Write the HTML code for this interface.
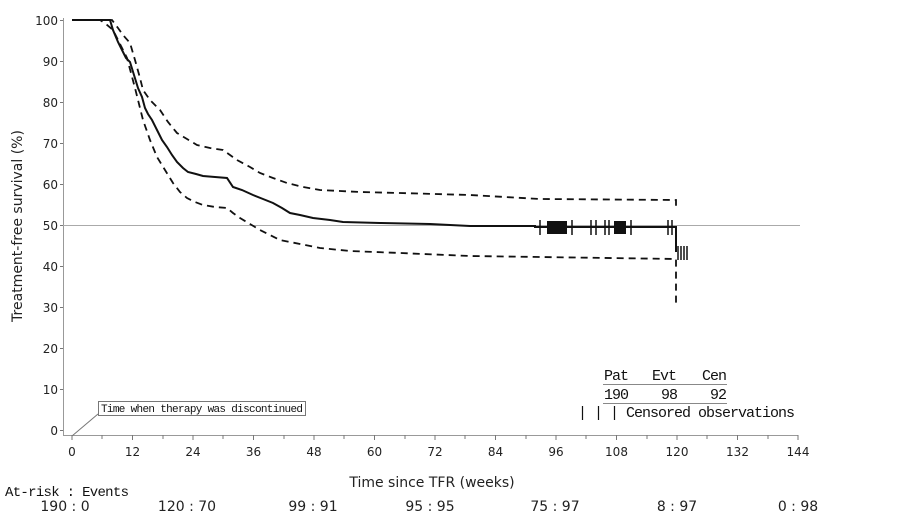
<!DOCTYPE html>
<html><head><meta charset="utf-8"><style>
html,body{margin:0;padding:0;background:#fff;width:924px;height:520px;overflow:hidden}
svg{display:block}
.s{font-family:"DejaVu Sans","Liberation Sans",sans-serif;fill:#222}
.m{font-family:"Liberation Mono","DejaVu Sans Mono",monospace;fill:#111}
</style></head><body>
<svg width="924" height="520" viewBox="0 0 924 520">
<g stroke="#999" stroke-width="1" fill="none">
<line x1="63.5" y1="18" x2="63.5" y2="435"/>
<line x1="63" y1="435.5" x2="798" y2="435.5"/>
<line x1="63" y1="225.5" x2="800" y2="225.5" stroke="#aaa"/>
</g>
<g stroke="#777" stroke-width="1">
<line x1="60" y1="20.5" x2="63" y2="20.5"/><line x1="60" y1="61.5" x2="63" y2="61.5"/><line x1="60" y1="102.5" x2="63" y2="102.5"/><line x1="60" y1="143.5" x2="63" y2="143.5"/><line x1="60" y1="184.5" x2="63" y2="184.5"/><line x1="60" y1="225.5" x2="63" y2="225.5"/><line x1="60" y1="266.5" x2="63" y2="266.5"/><line x1="60" y1="307.5" x2="63" y2="307.5"/><line x1="60" y1="348.5" x2="63" y2="348.5"/><line x1="60" y1="389.5" x2="63" y2="389.5"/><line x1="60" y1="430.5" x2="63" y2="430.5"/>
</g>
<g class="s" font-size="12" text-anchor="end">
<text x="58" y="25">100</text><text x="58" y="66">90</text><text x="58" y="107">80</text><text x="58" y="148">70</text><text x="58" y="189">60</text><text x="58" y="230">50</text><text x="58" y="271">40</text><text x="58" y="312">30</text><text x="58" y="353">20</text><text x="58" y="394">10</text><text x="58" y="435">0</text>
</g>
<g class="s" font-size="12" text-anchor="middle">
<text x="72" y="456">0</text><text x="132.5" y="456">12</text><text x="193" y="456">24</text><text x="253.5" y="456">36</text><text x="314" y="456">48</text><text x="374.5" y="456">60</text><text x="435" y="456">72</text><text x="495.5" y="456">84</text><text x="556" y="456">96</text><text x="616.5" y="456">108</text><text x="677" y="456">120</text><text x="737.5" y="456">132</text><text x="798" y="456">144</text>
</g>
<g stroke="#777" stroke-width="1">
<line x1="72" y1="435" x2="72" y2="440"/><line x1="102" y1="435" x2="102" y2="439"/><line x1="132.5" y1="435" x2="132.5" y2="440"/><line x1="163" y1="435" x2="163" y2="439"/><line x1="193" y1="435" x2="193" y2="440"/><line x1="223" y1="435" x2="223" y2="439"/><line x1="253.5" y1="435" x2="253.5" y2="440"/><line x1="284" y1="435" x2="284" y2="439"/><line x1="314" y1="435" x2="314" y2="440"/><line x1="344" y1="435" x2="344" y2="439"/><line x1="374.5" y1="435" x2="374.5" y2="440"/><line x1="405" y1="435" x2="405" y2="439"/><line x1="435" y1="435" x2="435" y2="440"/><line x1="465" y1="435" x2="465" y2="439"/><line x1="495.5" y1="435" x2="495.5" y2="440"/><line x1="526" y1="435" x2="526" y2="439"/><line x1="556" y1="435" x2="556" y2="440"/><line x1="586" y1="435" x2="586" y2="439"/><line x1="616.5" y1="435" x2="616.5" y2="440"/><line x1="647" y1="435" x2="647" y2="439"/><line x1="677" y1="435" x2="677" y2="440"/><line x1="707" y1="435" x2="707" y2="439"/><line x1="737.5" y1="435" x2="737.5" y2="440"/><line x1="768" y1="435" x2="768" y2="439"/><line x1="798" y1="435" x2="798" y2="440"/>
</g>
<text class="s" font-size="14" transform="translate(22,226) rotate(-90)" text-anchor="middle">Treatment-free survival (%)</text>
<text class="s" font-size="14" x="432" y="487" text-anchor="middle">Time since TFR (weeks)</text>
<text class="m" font-size="14" x="5" y="496" textLength="124">At-risk : Events</text>
<g class="s" font-size="14" text-anchor="middle">
<text x="65" y="511">190 : 0</text><text x="187" y="511">120 : 70</text><text x="313" y="511">99 : 91</text><text x="430" y="511">95 : 95</text><text x="555" y="511">75 : 97</text><text x="677" y="511">8 : 97</text><text x="798" y="511">0 : 98</text>
</g>
<line x1="72" y1="436" x2="98" y2="414" stroke="#777"/>
<rect x="98.5" y="401.5" width="207" height="14" fill="#fff" stroke="#777"/>
<text class="m" font-size="11" x="101" y="412" textLength="202">Time when therapy was discontinued</text>
<g fill="none" stroke="#111" stroke-width="2">
<path d="M72,20 H110 L113,30 L118,42 L122,50 L126,58 L130,62 L134,75 L138,88 L142,97 L145,108 L148,114 L152,120 L157,130 L162,140 L167,147 L172,155 L177,162 L183,168 L188,172 L196,174 L203,176 L215,177 L227,178 L233,187 L242,190 L253,195 L263,199 L273,203 L282,208 L290,213 L300,215 L313,218 L330,220 L343,222 L380,223 L430,224 L470,226 L535,226 V227 H676 V252"/>
</g>
<g fill="none" stroke="#111" stroke-width="1.8" stroke-dasharray="7,5">
<path d="M72,20 H112 L118,28 L123,35 L130,43 L135,60 L140,78 L143,90 L150,100 L160,110 L168,122 L177,133 L187,139 L197,145 L210,148 L223,150 L230,155 L237,160 L250,167 L260,173 L273,178 L287,183 L303,187 L320,190 L340,191 L360,192 L400,193 L470,195 L540,199 L676,200 V208"/>
<path d="M72,20 H100 L106,24 L113,30 L120,44 L127,58 L135,88 L143,120 L150,140 L157,157 L165,170 L173,183 L180,192 L187,198 L195,202 L203,205 L215,207 L227,208 L233,213 L240,218 L250,224 L260,230 L270,235 L280,240 L300,244 L320,248 L350,251 L400,253 L470,256 L540,257 L676,259 V305"/>
</g>
<g stroke="#111" stroke-width="1.5">
<line x1="540" y1="220" x2="540" y2="235"/><line x1="572" y1="220" x2="572" y2="235"/><line x1="591" y1="220" x2="591" y2="235"/><line x1="596" y1="220" x2="596" y2="235"/><line x1="605" y1="220" x2="605" y2="235"/><line x1="609" y1="220" x2="609" y2="235"/><line x1="631" y1="220" x2="631" y2="235"/><line x1="668" y1="220" x2="668" y2="235"/><line x1="672" y1="220" x2="672" y2="235"/>
<line x1="678" y1="246" x2="678" y2="260"/><line x1="681" y1="246" x2="681" y2="260"/><line x1="684" y1="246" x2="684" y2="260"/><line x1="687" y1="246" x2="687" y2="260"/>
</g>
<rect x="547" y="221" width="20" height="13" fill="#111"/>
<rect x="614" y="221" width="12" height="13" fill="#111"/>
<g class="m" font-size="15">
<text x="604" y="380" textLength="25">Pat</text><text x="652" y="380" textLength="25">Evt</text><text x="702" y="380" textLength="25">Cen</text>
<text x="604" y="399" textLength="25">190</text><text x="661" y="399" textLength="17">98</text><text x="710" y="399" textLength="17">92</text>
<text x="578" y="417" textLength="217">| | | Censored observations</text>
</g>
<line x1="603" y1="384.5" x2="727" y2="384.5" stroke="#888"/>
<line x1="603" y1="403.5" x2="727" y2="403.5" stroke="#888"/>
</svg>
</body></html>
